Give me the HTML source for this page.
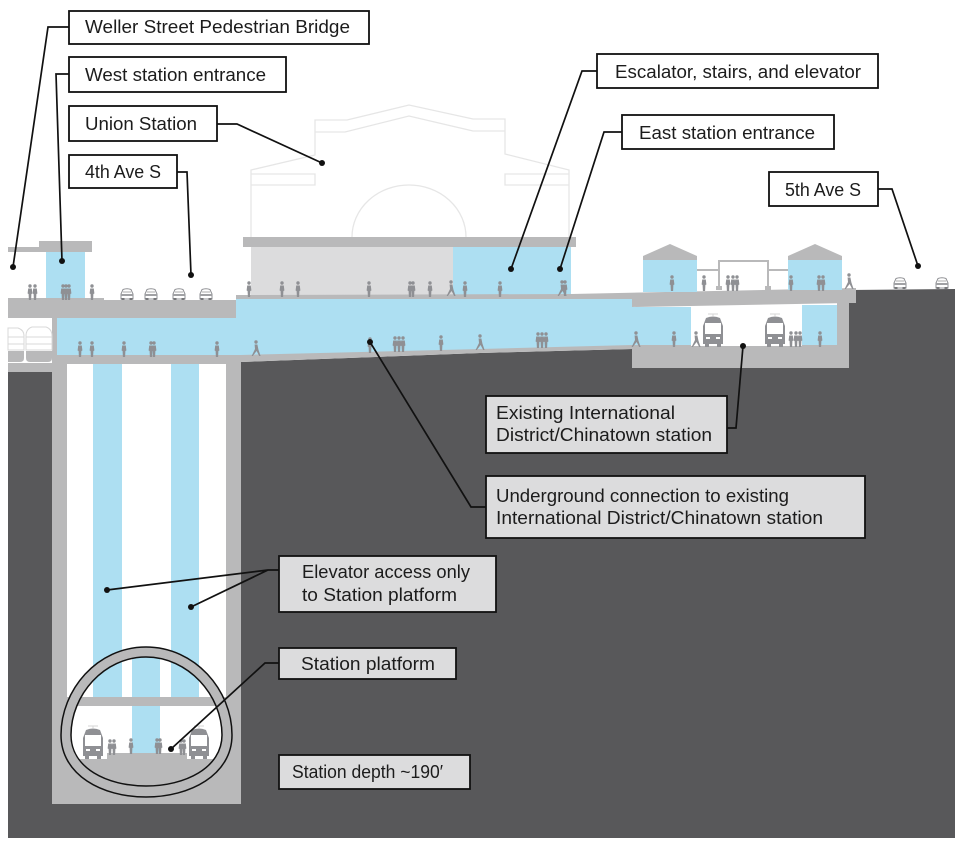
<!DOCTYPE html>
<html><head><meta charset="utf-8"><style>
html,body{margin:0;padding:0;background:#fff}svg{display:block}
text{font-family:"Liberation Sans",sans-serif;font-size:18.5px;fill:#1c1c1c}
.b{fill:#fff;stroke:#111;stroke-width:1.8}.g{fill:#dcdcdd;stroke:#111;stroke-width:1.8}
.l{fill:none;stroke:#111;stroke-width:1.7}.o{fill:none;stroke:#e6e6e6;stroke-width:1.3}
.f{fill:none;stroke:#b9b9ba;stroke-width:2}
</style></head><body>
<svg width="960" height="844" viewBox="0 0 960 844" xmlns="http://www.w3.org/2000/svg">
<defs>
<symbol id="p" viewBox="0 0 6 16" width="6" height="16" overflow="visible"><circle cx="3" cy="2" r="1.7" fill="#8f9094"/><path d="M1.2 4.5h3.6l.6 5-1 .5-.3 6h-2.2l-.3-6-1-.5z" fill="#8f9094"/></symbol>
<symbol id="w" viewBox="0 0 10 16" width="10" height="16" overflow="visible"><circle cx="5" cy="2" r="1.7" fill="#8f9094"/><path d="M3.6 4.5h2.8l1 5 2.2 6.5h-1.4l-2.6-5-3.8 5H.6l3.4-7z" fill="#8f9094"/></symbol>
<symbol id="c" viewBox="0 0 14 12" width="14" height="12" overflow="visible"><path d="M1 6l2-4.5q4-1.5 8 0L13 6v5H1z" fill="#fff" stroke="#8f9094" stroke-width="1"/><rect x="1" y="6" width="12" height="2" fill="#a0a1a4"/><rect x="3" y="3" width="8" height="2" fill="#d5d5d5"/><rect x="1.5" y="10" width="3" height="2" fill="#77787b"/><rect x="9.5" y="10" width="3" height="2" fill="#77787b"/></symbol>
<symbol id="t" viewBox="0 0 20 31" width="20" height="31" overflow="visible"><path d="M5 -2h10M10 -2v2" stroke="#d5d5d5" stroke-width="1"/><path d="M0 10L3 2Q10 -1 17 2L20 10V28H0z" fill="#8f9094"/><rect x="2" y="7" width="16" height="11" fill="#fff"/><rect x="3" y="21" width="4" height="2" fill="#fff"/><rect x="13" y="21" width="4" height="2" fill="#fff"/><rect x="2" y="28" width="4" height="3" fill="#8f9094"/><rect x="14" y="28" width="4" height="3" fill="#8f9094"/></symbol>
<clipPath id="in"><path d="M146,657C188,657 222,695 222,735C222,768 185,786 146,786C107,786 71,768 71,735C71,695 104,657 146,657Z"/></clipPath>
</defs>

<!-- ground -->
<path d="M8,372H52V804H241V362L480,353L632,349V368H849V290L955,289V838H8Z" fill="#58585a"/>

<!-- Union Station outline -->
<path class="o" d="M251,237V170L315,155V120H347L409,105L473,119H505V154L569,170V237"/>
<path class="o" d="M315,132H345L409,116L473,131H505M251,174H315V185H251M569,174H505V185H569M352,237A57,52 0 0 1 466,237"/>

<!-- concourse -->
<path d="M57,318H236V299H632V307H691V345L241,356H57Z" fill="#addff2"/>
<rect x="8" y="318" width="44" height="45" fill="#fff"/>
<rect x="52" y="318" width="5" height="54" fill="#b9b9ba"/>
<rect x="8" y="363" width="50" height="9" fill="#b9b9ba"/>
<path d="M8,298H104V300H236V318H8Z" fill="#b9b9ba"/>
<path d="M52,355H241L480,349L632,345V349L480,353L241,362H52Z" fill="#b9b9ba"/>

<!-- west entrance -->
<rect x="46" y="252" width="39" height="46" fill="#addff2"/>
<rect x="39" y="241" width="53" height="11" fill="#b9b9ba"/>
<rect x="8" y="247" width="31" height="5" fill="#b9b9ba"/>

<!-- union building base -->
<rect x="251" y="247" width="202" height="48" fill="#dcdcdd"/>
<rect x="453" y="247" width="118" height="48" fill="#addff2"/>
<rect x="243" y="237" width="333" height="10" fill="#b9b9ba"/>

<!-- shaft -->
<rect x="52" y="362" width="189" height="442" fill="#b9b9ba"/>
<rect x="67" y="364" width="159" height="333" fill="#fff"/>
<rect x="93" y="364" width="29" height="333" fill="#addff2"/>
<rect x="171" y="364" width="28" height="333" fill="#addff2"/>
<path d="M146,647C195,647 232,690 232,735C232,775 190,797 146,797C102,797 61,775 61,735C61,690 97,647 146,647Z" fill="#b9b9ba" stroke="#111" stroke-width="1.5"/>
<path d="M146,657C188,657 222,695 222,735C222,768 185,786 146,786C107,786 71,768 71,735C71,695 104,657 146,657Z" fill="#fff"/>
<g clip-path="url(#in)">
<rect x="93" y="650" width="29" height="47" fill="#addff2"/>
<rect x="171" y="650" width="28" height="47" fill="#addff2"/>
<rect x="132" y="650" width="28" height="103" fill="#addff2"/>
<rect x="60" y="697" width="170" height="9" fill="#b9b9ba"/>
<path d="M60,759H107V753H187V759H235V800H60Z" fill="#b9b9ba"/>
</g>
<path d="M146,657C188,657 222,695 222,735C222,768 185,786 146,786C107,786 71,768 71,735C71,695 104,657 146,657Z" fill="none" stroke="#111" stroke-width="1.5"/>

<!-- east station -->
<rect x="632" y="345" width="217" height="23" fill="#b9b9ba"/>
<rect x="837" y="303" width="12" height="44" fill="#b9b9ba"/>
<rect x="691" y="305" width="111" height="41" fill="#fff"/>
<rect x="802" y="305" width="35" height="40" fill="#addff2"/>
<path d="M236,295L571,294L856,288V303H849L691,306L632,307V299H236Z" fill="#b9b9ba"/>
<rect x="643" y="260" width="54" height="32" fill="#addff2"/>
<rect x="788" y="260" width="54" height="30" fill="#addff2"/>
<path d="M643,256L670,244L697,256V260H643Z" fill="#b9b9ba"/>
<path d="M788,256L815,244L842,256V260H788Z" fill="#b9b9ba"/>
<path class="f" d="M697,270H719M719,290V261H768V290M768,270H788"/>
<rect x="716" y="286" width="6" height="4" fill="#b9b9ba"/><rect x="765" y="286" width="6" height="4" fill="#b9b9ba"/>

<!-- west trains -->
<g fill="#fff" stroke="#d8d8d8" stroke-width="1"><path d="M8,328H18Q24,330 24,336V350H8Z"/><path d="M32,327H46Q52,329 52,336V350H26V336Q26,329 32,327Z"/><path d="M8,337H24M26,337H52M8,344H24M26,344H52"/></g>
<path d="M8,351H24V358Q24,362 20,362H8Z" fill="#b9b9ba"/><path d="M26,351H52V358Q52,362 48,362H30Q26,362 26,358Z" fill="#b9b9ba"/>

<!-- vehicles -->
<use href="#c" x="120" y="288"/><use href="#c" x="144" y="288"/><use href="#c" x="172" y="288"/><use href="#c" x="199" y="288"/><use href="#c" x="893" y="277"/><use href="#c" x="935" y="277"/>
<use href="#t" x="703" y="316"/><use href="#t" x="765" y="316"/><use href="#t" x="83" y="728"/><use href="#t" x="189" y="728"/>

<!-- people -->
<g>
<use href="#p" x="27" y="284"/><use href="#p" x="32" y="284"/><use href="#p" x="60" y="284"/><use href="#p" x="63" y="284"/><use href="#p" x="66" y="284"/><use href="#p" x="89" y="284"/>
<use href="#p" x="246" y="281"/><use href="#p" x="279" y="281"/><use href="#p" x="295" y="281"/><use href="#p" x="366" y="281"/><use href="#p" x="407" y="281"/><use href="#p" x="410" y="281"/><use href="#p" x="427" y="281"/><use href="#w" x="446" y="280"/><use href="#p" x="462" y="281"/><use href="#p" x="497" y="281"/><use href="#w" x="557" y="280"/><use href="#p" x="562" y="280"/>
<use href="#p" x="77" y="341"/><use href="#p" x="89" y="341"/><use href="#p" x="121" y="341"/><use href="#p" x="148" y="341"/><use href="#p" x="151" y="341"/><use href="#p" x="214" y="341"/><use href="#w" x="251" y="340"/><use href="#p" x="367" y="337"/><use href="#p" x="392" y="336"/><use href="#p" x="396" y="336"/><use href="#p" x="400" y="336"/><use href="#p" x="438" y="335"/><use href="#w" x="475" y="334"/><use href="#p" x="535" y="332"/><use href="#p" x="539" y="332"/><use href="#p" x="543" y="332"/><use href="#w" x="631" y="331"/>
<use href="#p" x="669" y="275"/><use href="#p" x="701" y="275"/><use href="#p" x="725" y="275"/><use href="#p" x="730" y="275"/><use href="#p" x="734" y="275"/><use href="#p" x="788" y="275"/><use href="#p" x="816" y="275"/><use href="#p" x="820" y="275"/><use href="#w" x="844" y="273"/>
<use href="#p" x="671" y="331"/><use href="#w" x="691" y="331"/><use href="#p" x="788" y="331"/><use href="#p" x="793" y="331"/><use href="#p" x="797" y="331"/><use href="#p" x="817" y="331"/>
<use href="#p" x="107" y="739"/><use href="#p" x="111" y="739"/><use href="#p" x="128" y="738"/><use href="#p" x="154" y="738"/><use href="#p" x="157" y="738"/><use href="#p" x="178" y="739"/><use href="#p" x="181" y="739"/>
</g>

<!-- leaders -->
<g><path class="l" d="M69,27H48L13,267"/><path class="l" d="M69,74H56L62,261"/><path class="l" d="M177,172H187L191,275"/><path class="l" d="M217,124H237L322,163"/><path class="l" d="M597,71H582L511,269"/><path class="l" d="M622,132H604L560,269"/><path class="l" d="M878,189H892L918,266"/><path class="l" d="M727,428H736L743,346"/><path class="l" d="M486,507H471L370,342"/><path class="l" d="M279,570H268L107,590M268,570L191,607"/><path class="l" d="M279,663H265L171,749"/></g>
<g fill="#111"><circle cx="13" cy="267" r="3"/><circle cx="62" cy="261" r="3"/><circle cx="191" cy="275" r="3"/><circle cx="322" cy="163" r="3"/><circle cx="511" cy="269" r="3"/><circle cx="560" cy="269" r="3"/><circle cx="918" cy="266" r="3"/><circle cx="743" cy="346" r="3"/><circle cx="370" cy="342" r="3"/><circle cx="107" cy="590" r="3"/><circle cx="191" cy="607" r="3"/><circle cx="171" cy="749" r="3"/></g>

<!-- labels -->
<rect class="b" x="69" y="11" width="300" height="33"/><text x="85" y="33" textLength="265" lengthAdjust="spacingAndGlyphs">Weller Street Pedestrian Bridge</text>
<rect class="b" x="69" y="57" width="217" height="35"/><text x="85" y="81" textLength="181" lengthAdjust="spacingAndGlyphs">West station entrance</text>
<rect class="b" x="69" y="106" width="148" height="35"/><text x="85" y="130" textLength="112" lengthAdjust="spacingAndGlyphs">Union Station</text>
<rect class="b" x="69" y="155" width="108" height="33"/><text x="85" y="178" textLength="76" lengthAdjust="spacingAndGlyphs">4th Ave S</text>
<rect class="b" x="597" y="54" width="281" height="34"/><text x="615" y="78" textLength="246" lengthAdjust="spacingAndGlyphs">Escalator, stairs, and elevator</text>
<rect class="b" x="622" y="115" width="212" height="34"/><text x="639" y="139" textLength="176" lengthAdjust="spacingAndGlyphs">East station entrance</text>
<rect class="b" x="769" y="172" width="109" height="34"/><text x="785" y="196" textLength="76" lengthAdjust="spacingAndGlyphs">5th Ave S</text>
<rect class="g" x="486" y="396" width="241" height="57"/><text x="496" y="419" textLength="179" lengthAdjust="spacingAndGlyphs">Existing International</text><text x="496" y="441" textLength="216" lengthAdjust="spacingAndGlyphs">District/Chinatown station</text>
<rect class="g" x="486" y="476" width="379" height="62"/><text x="496" y="502" textLength="293" lengthAdjust="spacingAndGlyphs">Underground connection to existing</text><text x="496" y="524" textLength="327" lengthAdjust="spacingAndGlyphs">International District/Chinatown station</text>
<rect class="g" x="279" y="556" width="217" height="56"/><text x="302" y="578" textLength="168" lengthAdjust="spacingAndGlyphs">Elevator access only</text><text x="302" y="601" textLength="155" lengthAdjust="spacingAndGlyphs">to Station platform</text>
<rect class="g" x="279" y="648" width="177" height="31"/><text x="301" y="670" textLength="134" lengthAdjust="spacingAndGlyphs">Station platform</text>
<rect class="g" x="279" y="755" width="191" height="34"/><text x="292" y="778" textLength="151" lengthAdjust="spacingAndGlyphs">Station depth ~190′</text>
</svg>
</body></html>
